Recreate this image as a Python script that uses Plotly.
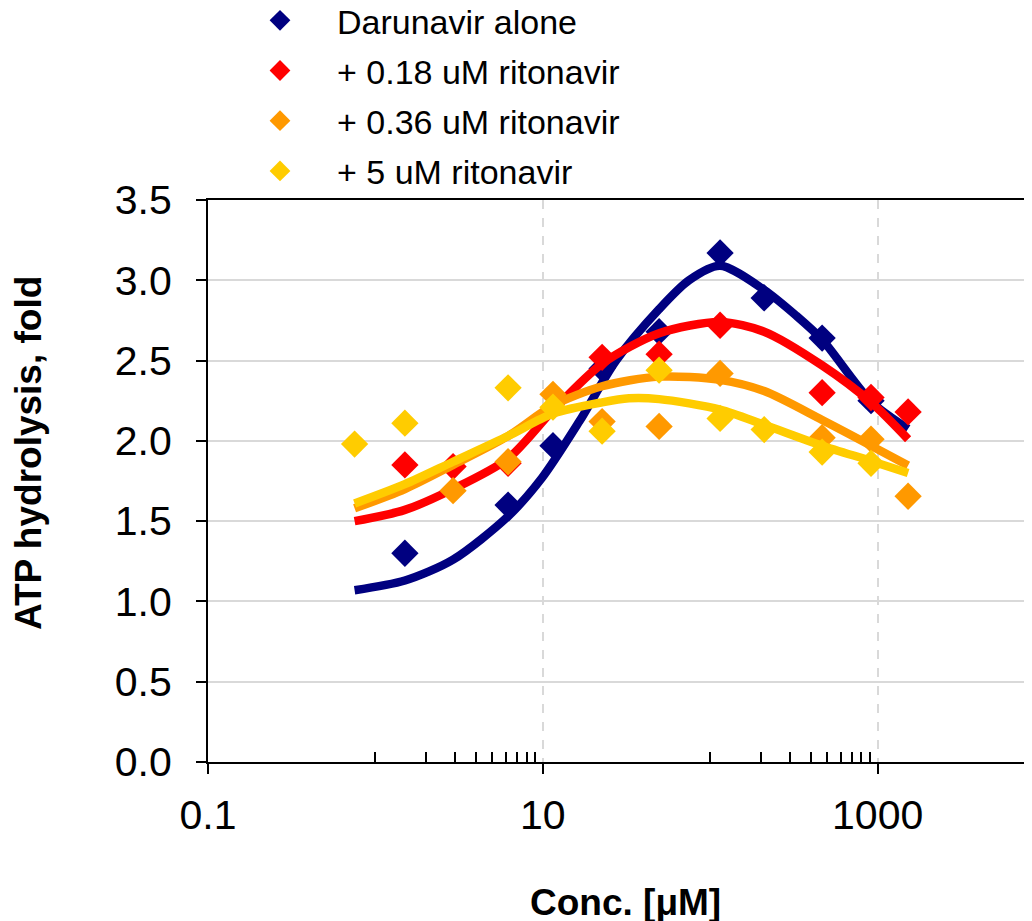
import plotly.graph_objects as go

# ---------------- data ----------------
series_names = ["Darunavir alone", "+ 0.18 uM ritonavir", "+ 0.36 uM ritonavir", "+ 5 uM ritonavir"]
colors = ["#000080", "#FF0000", "#FF9900", "#FFCC00"]

# measured points
dar_x = [1.5, 6.2, 11.5, 22.6, 49.5, 114.5, 210, 466, 913]
dar_y = [1.30, 1.60, 1.97, 2.45, 2.68, 3.17, 2.89, 2.64, 2.25]

r018_x = [1.5, 2.91, 6.2, 22.6, 49.5, 114.5, 466, 913, 1520]
r018_y = [1.85, 1.84, 1.86, 2.52, 2.54, 2.72, 2.30, 2.27, 2.18]

r036_x = [2.91, 6.2, 11.5, 22.6, 49.5, 114.5, 466, 913, 1520]
r036_y = [1.69, 1.87, 2.29, 2.12, 2.09, 2.42, 2.02, 2.01, 1.655]

r5_x = [0.751, 1.5, 6.2, 11.5, 22.6, 49.5, 114.5, 210, 466, 913]
r5_y = [1.98, 2.11, 2.33, 2.21, 2.06, 2.44, 2.14, 2.07, 1.93, 1.86]

# fitted curves
dar_fit_x = [0.751, 1.5, 2.91, 6.2, 9.9, 16.5, 27.4, 49.5, 74.7, 114.5, 210, 326, 466, 913, 1520]
dar_fit_y = [1.07, 1.13, 1.26, 1.53, 1.77, 2.12, 2.50, 2.82, 3.00, 3.09, 2.94, 2.78, 2.63, 2.245, 2.075]

r018_fit_x = [0.751, 1.5, 2.91, 6.2, 11.5, 22.6, 49.5, 114.5, 210, 466, 913, 1520]
r018_fit_y = [1.50, 1.57, 1.70, 1.89, 2.19, 2.48, 2.67, 2.74, 2.68, 2.47, 2.24, 2.01]

r036_fit_x = [0.751, 1.5, 2.91, 6.2, 11.5, 22.6, 49.5, 114.5, 210, 466, 913, 1520]
r036_fit_y = [1.58, 1.70, 1.85, 2.03, 2.22, 2.34, 2.40, 2.38, 2.31, 2.13, 1.97, 1.846]

r5_fit_x = [0.751, 1.5, 2.91, 6.2, 11.5, 22.6, 32.7, 49.5, 114.5, 210, 466, 913, 1520]
r5_fit_y = [1.61, 1.73, 1.87, 2.03, 2.17, 2.24, 2.265, 2.26, 2.195, 2.10, 1.97, 1.875, 1.80]

x_tickvals = [0.1, 10, 1000]
x_ticktext = ["0.1", "10", "1000"]
x_minorvals = [1, 2, 3, 4, 5, 6, 7, 8, 9, 100, 200, 300, 400, 500, 600, 700, 800, 900]
y_tickvals = [0.0, 0.5, 1.0, 1.5, 2.0, 2.5, 3.0, 3.5]

points = [(dar_x, dar_y), (r018_x, r018_y), (r036_x, r036_y), (r5_x, r5_y)]
fits = [(dar_fit_x, dar_fit_y), (r018_fit_x, r018_fit_y), (r036_fit_x, r036_fit_y), (r5_fit_x, r5_fit_y)]

FONT = "Liberation Sans, Arial, sans-serif"

# figure is drawn inside the page body (8 px default margin)
W, H = 1024, 913
L, T, B = 200, 192, 159
PW, PH = W - L, H - T - B

fig = go.Figure()
for i in range(4):
    fx, fy = fits[i]
    px, py = points[i]
    fig.add_trace(go.Scatter(x=fx, y=fy, mode="lines",
                             line=dict(color=colors[i], width=8.5, shape="spline", smoothing=0.8),
                             showlegend=False, hoverinfo="skip"))
    fig.add_trace(go.Scatter(x=px, y=py, mode="markers", name=series_names[i], legendgroup=f"g{i}",
                             marker=dict(symbol="diamond", size=21, color=colors[i], line=dict(width=0))))

fig.update_layout(
    width=W, height=H,
    margin=dict(l=L, r=0, t=T, b=B, pad=0, autoexpand=False),
    paper_bgcolor="white", plot_bgcolor="white",
    font=dict(family=FONT, color="black"),
    showlegend=True,
    legend=dict(
        x=(215 - L) / PW, y=1 + (T + 16.3) / PH, xanchor="left", yanchor="top",
        font=dict(size=34, family=FONT, color="black"),
        itemwidth=104, tracegroupgap=3, traceorder="grouped",
        bgcolor="rgba(0,0,0,0)", borderwidth=0,
    ),
    xaxis=dict(
        type="log", range=[-1, 3.922],
        tickmode="array", tickvals=x_tickvals, ticktext=x_ticktext,
        ticks="outside", ticklen=10, tickwidth=1.5, tickcolor="black",
        tickfont=dict(size=41, family=FONT, color="black"),
        ticklabelstandoff=6,
        showline=True, linecolor="black", linewidth=2, mirror=True,
        showgrid=True, gridcolor="#d9d9d9", gridwidth=1.5, griddash="dash",
        minor=dict(tickmode="array", tickvals=x_minorvals, ticks="inside", ticklen=10,
                   tickwidth=1.5, tickcolor="black", showgrid=False),
        zeroline=False,
    ),
    yaxis=dict(
        range=[0, 3.5],
        tickmode="array", tickvals=y_tickvals, tickformat=".1f",
        ticks="outside", ticklen=10, tickwidth=1.5, tickcolor="black",
        tickfont=dict(size=41, family=FONT, color="black"),
        ticklabelstandoff=16,
        showline=True, linecolor="black", linewidth=2, mirror=False,
        showgrid=True, gridcolor="#d9d9d9", gridwidth=2,
        zeroline=False,
    ),
    annotations=[
        dict(text="<b>ATP hydrolysis, fold</b>", xref="paper", yref="paper",
             x=(20 - L) / PW, y=(T + PH - 445) / PH, textangle=-90, showarrow=False,
             font=dict(size=37, family=FONT, color="black"), xanchor="center", yanchor="middle"),
        dict(text="<b>Conc. [μM]</b>", xref="paper", yref="paper",
             x=(617 - L) / PW, y=(T + PH - 894) / PH, showarrow=False,
             font=dict(size=37, family=FONT, color="black"), xanchor="center", yanchor="middle"),
    ],
)

fig.write_html("out.html")
